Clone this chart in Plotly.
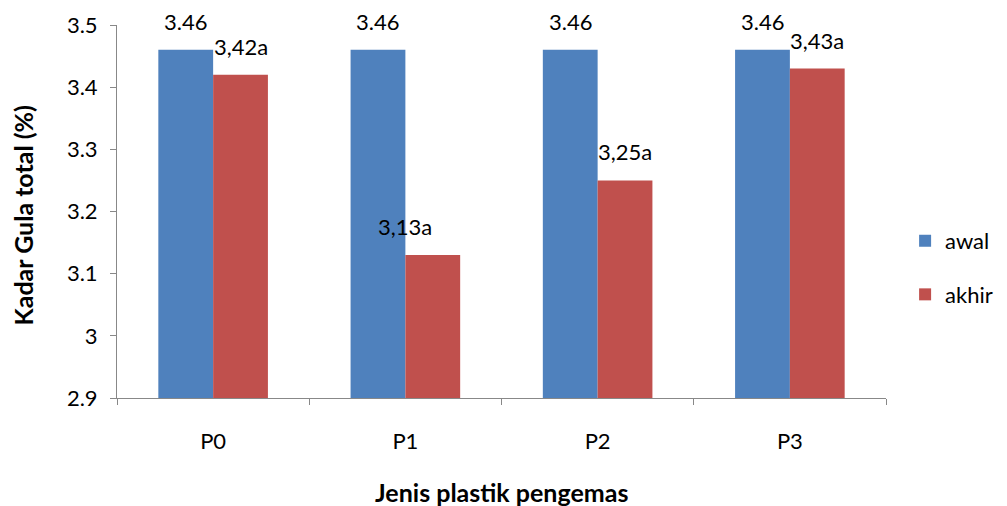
import plotly.graph_objects as go

categories = ["P0", "P1", "P2", "P3"]
awal = [3.46, 3.46, 3.46, 3.46]
akhir = [3.42, 3.13, 3.25, 3.43]
awal_labels = ["3.46", "3.46", "3.46", "3.46"]
akhir_labels = ["3,42a", "3,13a", "3,25a", "3,43a"]
y_ticks = [2.9, 3.0, 3.1, 3.2, 3.3, 3.4, 3.5]
y_tick_text = ["2.9", "3", "3.1", "3.2", "3.3", "3.4", "3.5"]
x_title = "Jenis plastik pengemas"
y_title = "Kadar Gula total (%)"

FONT = "Lato"
BLUE = "#4F81BD"
RED = "#C0504D"
BARGAP = 0.43
FS = 22
TFS = 25

fig = go.Figure()
fig.add_trace(go.Bar(name="awal", x=categories, y=awal, legendgroup="a",
                     marker=dict(color=BLUE, line=dict(width=0))))
fig.add_trace(go.Bar(name="akhir", x=categories, y=akhir, legendgroup="b",
                     marker=dict(color=RED, line=dict(width=0))))

half = (1 - BARGAP) / 4
label_dx = [0, -28, 0, 0]
for i, c in enumerate(categories):
    fig.add_annotation(x=i - half, y=awal[i], xref="x", yref="y", text=awal_labels[i],
                       showarrow=False, yanchor="bottom", yshift=13,
                       font=dict(family=FONT, size=FS, color="black"))
    fig.add_annotation(x=i + half, y=akhir[i], xref="x", yref="y", text=akhir_labels[i],
                       showarrow=False, yanchor="bottom", yshift=13, xshift=label_dx[i],
                       font=dict(family=FONT, size=FS, color="black"))

fig.add_annotation(text="<b>" + x_title + "</b>", xref="paper", yref="paper",
                   x=0.5, y=-0.252, xanchor="center", yanchor="middle", showarrow=False,
                   font=dict(family=FONT, size=TFS, color="black"))
fig.add_annotation(text="<b>" + y_title + "</b>", xref="paper", yref="paper",
                   x=-0.122, y=0.49, xanchor="center", yanchor="middle", showarrow=False,
                   textangle=-90, font=dict(family=FONT, size=TFS, color="black"))

fig.update_layout(
    width=999, height=498,
    margin=dict(l=109, r=121, t=17, b=108),
    paper_bgcolor="white", plot_bgcolor="white",
    barmode="group", bargap=BARGAP, bargroupgap=0,
    font=dict(family=FONT, size=FS, color="black"),
    legend=dict(xref="container", yref="container", x=0.898, y=0.478,
                xanchor="left", yanchor="middle",
                font=dict(family=FONT, size=FS), tracegroupgap=22,
                traceorder="grouped", itemsizing="constant"),
    xaxis=dict(
        type="category", showline=True, linecolor="#888888", linewidth=1,
        ticks="outside", tickson="boundaries", ticklen=6, tickcolor="#888888",
        ticklabelstandoff=24, range=[-0.5, 3.5], automargin=False,
        showgrid=False,
    ),
    yaxis=dict(
        range=[2.9, 3.5], tickvals=y_ticks, ticktext=y_tick_text, automargin=False,
        showline=True, linecolor="#888888", linewidth=1,
        ticks="outside", ticklen=6, tickcolor="#888888", ticklabelstandoff=8,
        showgrid=False, zeroline=False,
    ),
)

fig.write_html("out.html")
